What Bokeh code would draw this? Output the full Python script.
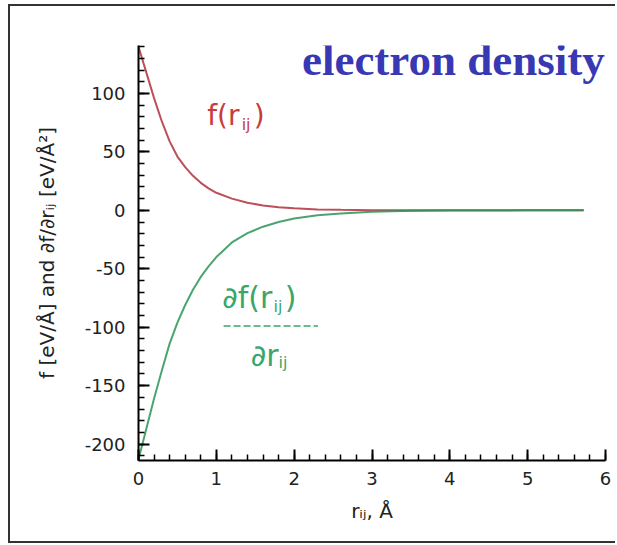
from bokeh.plotting import figure
from bokeh.models import Label, FixedTicker, Range1d
from bokeh.embed import file_html
from bokeh.resources import INLINE

# ---- data ----
r_vals = [0.0, 0.1, 0.2, 0.3, 0.4, 0.5, 0.6, 0.7, 0.8, 0.9, 1.0, 1.2, 1.4, 1.6,
          1.8, 2.0, 2.3, 2.6, 3.0, 3.4, 4.0, 5.0, 5.72]
f_vals = [140, 118, 96, 76, 59, 46, 37, 29.5, 23.5, 18.8, 15, 10, 6.5, 4.2,
          2.7, 1.7, 0.8, 0.4, 0.15, 0.05, 0.0, 0.0, 0.0]
df_vals = [-213, -187, -161, -137, -114, -96, -81, -68, -57, -48, -40, -27.5, -19.5, -14,
           -10, -7, -4.3, -2.7, -1.3, -0.6, -0.2, 0.0, 0.0]

x_ticks = [0, 1, 2, 3, 4, 5, 6]
y_ticks = [-200, -150, -100, -50, 0, 50, 100]

title_text = "electron density"
x_label = "r\u1d62\u2c7c, \u00c5"
y_label = "f [eV/\u00c5] and \u2202f/\u2202r\u1d62\u2c7c [eV/\u00c5\u00b2]"

RED = "#b0303a"
GREEN = "#2a9458"
RED_TXT = "#c83c3c"
GREEN_TXT = "#3aa66a"
BLUE = "#3838b4"

BORDER = "2px solid #333333"
p = figure(width=607, height=539, x_range=Range1d(0, 6), y_range=Range1d(-214, 141),
           output_backend="svg", toolbar_location=None,
           min_border_left=128, min_border_right=12, min_border_top=39, min_border_bottom=85,
           background_fill_color="white", border_fill_color="white",
           styles={"margin-left": "8px", "margin-top": "4px",
                   "border-left": BORDER, "border-top": BORDER, "border-bottom": BORDER})
p.outline_line_color = None
p.xgrid.grid_line_color = None
p.ygrid.grid_line_color = None

p.xaxis.ticker = FixedTicker(ticks=x_ticks, minor_ticks=[i * 0.2 for i in range(31)])
p.yaxis.ticker = FixedTicker(ticks=y_ticks, minor_ticks=[-210 + 10 * i for i in range(36)])
p.yaxis.major_label_overrides = {v: str(v) for v in y_ticks}
p.xaxis.major_label_overrides = {v: str(v) for v in x_ticks}

for ax in (p.xaxis[0], p.yaxis[0]):
    ax.axis_line_width = 2
    ax.axis_line_color = "black"
    ax.major_tick_in = 11
    ax.major_tick_out = 0
    ax.minor_tick_in = 6
    ax.minor_tick_out = 0
    ax.major_tick_line_width = 2
    ax.minor_tick_line_width = 1.5
    ax.major_tick_line_color = "black"
    ax.minor_tick_line_color = "black"
    ax.major_label_text_font = "DejaVu Sans"
    ax.major_label_text_font_size = "18px"
    ax.major_label_text_color = "#222222"
    ax.axis_label_text_font = "DejaVu Sans"
    ax.axis_label_text_font_style = "normal"
    ax.axis_label_text_color = "#222222"

p.xaxis.axis_label = x_label
p.xaxis.axis_label_text_font_size = "20px"
p.xaxis.major_label_standoff = 11
p.xaxis.axis_label_standoff = 11
p.yaxis.axis_label = y_label
p.yaxis.axis_label_text_font_size = "20px"
p.yaxis.major_label_standoff = 13
p.yaxis.axis_label_standoff = 23

p.line(r_vals, f_vals, line_color=RED, line_width=2, line_alpha=0.85)
p.line(r_vals, df_vals, line_color=GREEN, line_width=2, line_alpha=0.85)

# title
p.add_layout(Label(x=2.10, y=129, text=title_text, text_font="Liberation Serif",
                   text_font_style="bold", text_font_size="45px", text_color=BLUE,
                   text_baseline="alphabetic"))

def lab(x, y, t, size, color):
    p.add_layout(Label(x=x, y=y, text=t, text_font="DejaVu Sans", text_font_size=size,
                       text_color=color, text_baseline="alphabetic"))

# f(r_ij)
lab(0.883, 81, "f(r", "28px", RED_TXT)
lab(1.325, 73.5, "ij", "16px", RED_TXT)
lab(1.48, 81, ")", "28px", RED_TXT)

# d f(r_ij) / d r_ij
lab(1.076, -74.5, "\u2202f(r", "30px", GREEN_TXT)
lab(1.735, -82.5, "ij", "16px", GREEN_TXT)
lab(1.88, -74.5, ")", "30px", GREEN_TXT)
frac_x = [1.093, 2.306]
frac_y = [-99, -99]
p.line(frac_x, frac_y, line_color=GREEN_TXT, line_width=1.5, line_dash="7 3")
lab(1.441, -124.5, "\u2202r", "30px", GREEN_TXT)
lab(1.8, -130.5, "ij", "16px", GREEN_TXT)

open("out.html", "w").write(file_html(p, INLINE))
